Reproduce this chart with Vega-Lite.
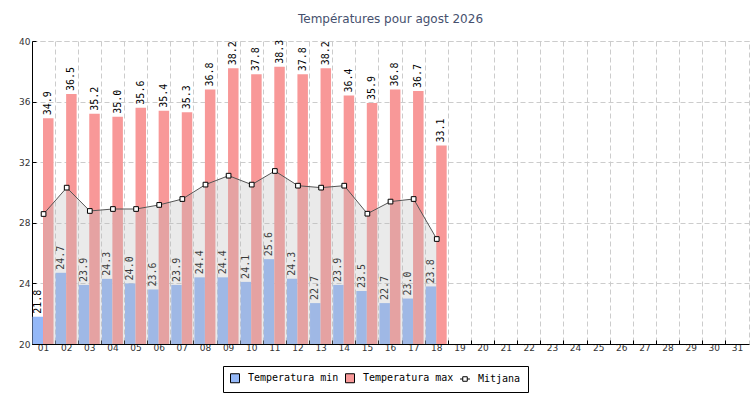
{
  "$schema": "https://vega.github.io/schema/vega-lite/v6.json",
  "width": 717,
  "height": 303,
  "autosize": {"type": "none"},
  "padding": {"left": 32, "top": 41, "right": 1, "bottom": 56},
  "background": "white",
  "title": {
    "text": "Températures pour agost 2026",
    "font": "DejaVu Sans",
    "fontSize": 12,
    "fontWeight": "normal",
    "color": "#46506e",
    "anchor": "middle",
    "offset": 11
  },
  "config": {
    "view": {"stroke": "#cccccc", "strokeDash": [5, 3]},
    "axis": {
      "domainColor": "black",
      "tickColor": "black",
      "tickSize": -4,
      "gridColor": "#cccccc",
      "gridDash": [5, 3],
      "labelFont": "DejaVu Sans",
      "labelFontSize": 9,
      "labelColor": "#333333",
      "title": null
    }
  },
  "datasets": {
    "temps": [
      {"dia": "01", "Temperatura min": 21.8, "Temperatura max": 34.9, "mitjana": 28.58},
      {"dia": "02", "Temperatura min": 24.7, "Temperatura max": 36.5, "mitjana": 30.32},
      {"dia": "03", "Temperatura min": 23.9, "Temperatura max": 35.2, "mitjana": 28.78},
      {"dia": "04", "Temperatura min": 24.3, "Temperatura max": 35.0, "mitjana": 28.91},
      {"dia": "05", "Temperatura min": 24.0, "Temperatura max": 35.6, "mitjana": 28.91},
      {"dia": "06", "Temperatura min": 23.6, "Temperatura max": 35.4, "mitjana": 29.18},
      {"dia": "07", "Temperatura min": 23.9, "Temperatura max": 35.3, "mitjana": 29.57},
      {"dia": "08", "Temperatura min": 24.4, "Temperatura max": 36.8, "mitjana": 30.52},
      {"dia": "09", "Temperatura min": 24.4, "Temperatura max": 38.2, "mitjana": 31.11},
      {"dia": "10", "Temperatura min": 24.1, "Temperatura max": 37.8, "mitjana": 30.52},
      {"dia": "11", "Temperatura min": 25.6, "Temperatura max": 38.3, "mitjana": 31.42},
      {"dia": "12", "Temperatura min": 24.3, "Temperatura max": 37.8, "mitjana": 30.45},
      {"dia": "13", "Temperatura min": 22.7, "Temperatura max": 38.2, "mitjana": 30.32},
      {"dia": "14", "Temperatura min": 23.9, "Temperatura max": 36.4, "mitjana": 30.45},
      {"dia": "15", "Temperatura min": 23.5, "Temperatura max": 35.9, "mitjana": 28.6},
      {"dia": "16", "Temperatura min": 22.7, "Temperatura max": 36.8, "mitjana": 29.4},
      {"dia": "17", "Temperatura min": 23.0, "Temperatura max": 36.7, "mitjana": 29.57},
      {"dia": "18", "Temperatura min": 23.8, "Temperatura max": 33.1, "mitjana": 26.93}
    ]
  },
  "data": {"name": "temps"},
  "encoding": {
    "x": {
      "field": "dia",
      "type": "ordinal",
      "scale": {
        "domain": ["01","02","03","04","05","06","07","08","09","10","11","12","13","14","15","16","17","18","19","20","21","22","23","24","25","26","27","28","29","30","31"],
        "paddingInner": 0,
        "paddingOuter": 0
      },
      "axis": {"labelAngle": 0, "bandPosition": 0, "labelPadding": 3, "grid": true}
    }
  },
  "layer": [
    {
      "transform": [{"fold": ["Temperatura min", "Temperatura max"], "as": ["serie", "valor"]}],
      "mark": {"type": "bar"},
      "encoding": {
        "xOffset": {
          "field": "serie",
          "scale": {"domain": ["Temperatura min", "Temperatura max"], "range": [0.5, 21.5], "paddingInner": 0, "paddingOuter": 0}
        },
        "y": {
          "field": "valor",
          "type": "quantitative",
          "scale": {"domain": [20, 40], "nice": false, "zero": false},
          "axis": {
            "values": [20,21,22,23,24,25,26,27,28,29,30,31,32,33,34,35,36,37,38,39,40],
            "labelExpr": "datum.value % 4 === 0 ? datum.label : ''",
            "gridOpacity": {"condition": {"test": "datum.value % 4 === 0", "value": 1}, "value": 0},
            "labelPadding": 6,
            "grid": true
          }
        },
        "y2": {"datum": 20},
        "color": {
          "field": "serie",
          "type": "nominal",
          "scale": {
            "domain": ["Temperatura min", "Temperatura max", "Mitjana"],
            "range": ["#94b8f8", "#f89898", "#ffffff"]
          },
          "legend": {
            "orient": "none",
            "legendX": 191,
            "legendY": 325,
            "direction": "horizontal",
            "title": null,
            "strokeColor": "black",
            "fillColor": "white",
            "padding": 7,
            "symbolSize": 81,
            "symbolType": "square",
            "symbolStrokeColor": "black",
            "symbolStrokeWidth": 1,
            "labelFont": "DejaVu Sans Mono",
            "labelFontSize": 10,
            "labelColor": "black",
            "labelOffset": 8,
            "columnPadding": 4,
            "encode": {
              "symbols": {
                "update": {
                  "shape": {"signal": "datum.value === 'Mitjana' ? 'M-1.1,0H-0.5M0.5,0H1.1M-0.5,-0.5H0.5V0.5H-0.5Z' : 'square'"},
                  "stroke": {"value": "black"},
                  "strokeWidth": {"value": 1}
                }
              }
            }
          }
        }
      }
    },
    {
      "transform": [{"fold": ["Temperatura min", "Temperatura max"], "as": ["serie", "valor"]}],
      "mark": {"type": "text", "angle": 270, "align": "left", "baseline": "middle", "dx": 3, "font": "DejaVu Sans Mono", "fontSize": 10, "color": "black"},
      "encoding": {
        "xOffset": {"field": "serie"},
        "y": {"field": "valor", "type": "quantitative"},
        "text": {"field": "valor", "type": "quantitative", "format": ".1f"}
      }
    },
    {
      "mark": {"type": "area", "color": "#b8b8b8", "opacity": 0.3},
      "encoding": {
        "y": {"field": "mitjana", "type": "quantitative"},
        "y2": {"datum": 20}
      }
    },
    {
      "mark": {"type": "line", "color": "#555555", "strokeWidth": 1},
      "encoding": {
        "y": {"field": "mitjana", "type": "quantitative"}
      }
    },
    {
      "mark": {"type": "point", "shape": "square", "size": 22, "filled": true, "fill": "white", "stroke": "black", "strokeWidth": 1, "opacity": 1},
      "encoding": {
        "y": {"field": "mitjana", "type": "quantitative"}
      }
    }
  ]
}
